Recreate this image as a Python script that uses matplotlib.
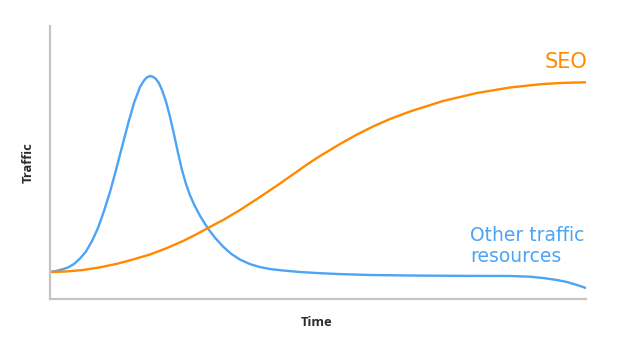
import matplotlib
matplotlib.use("Agg")
import matplotlib.pyplot as plt

# Data (arbitrary units: time 0..536, traffic 0..273)
other_t = [0, 6, 12, 18, 24, 30, 36, 42, 48, 54, 60, 66, 72, 78, 84, 90, 94, 97, 100, 103,
           106, 109, 112, 116, 120, 124, 128, 132, 136, 140, 144, 150, 158, 165, 173, 181,
           190, 200, 210, 220, 230, 250, 270, 290, 320, 370, 420, 460, 480, 493, 507, 517,
           527, 536]
other_v = [27, 28, 29.5, 31.5, 35, 40.5, 47.5, 58, 71, 88, 107, 129, 152, 175, 196, 212,
           218.5, 221.7, 223, 222.2, 220, 215.7, 209, 197.4, 182.2, 164.6, 146.2, 129, 115,
           103.8, 94.6, 83.2, 70.4, 61.3, 52.5, 45.3, 39.4, 34.9, 31.9, 30, 28.8, 27, 25.8,
           24.9, 24, 23.4, 23.1, 23, 22.3, 21, 19, 17, 14, 11]

seo_t = [0, 16, 33, 50, 67, 83, 100, 117, 133, 145, 158, 174, 190, 210, 230, 245, 257,
         270, 290, 307, 323, 340, 360, 393, 427, 460, 493, 515, 536]
seo_v = [27, 27.5, 29, 31.7, 35.2, 39.5, 44.5, 51, 58, 64, 71, 79.5, 89, 102, 115.5, 126,
         134.5, 143, 155, 164.5, 172.5, 180, 187.5, 198, 206, 211.5, 215, 216.2, 216.7]

BLUE = "#4da3f5"
ORANGE = "#ff8a00"
LABEL_FONT = "DejaVu Sans"
AXIS_FONT = "Open Sans"

fig = plt.figure(figsize=(6.28, 3.45), dpi=100)
ax = fig.add_axes([50/628, 1-299/345, 536/628, 273/345])

ax.plot(other_t, other_v, color=BLUE, lw=1.7, solid_capstyle="round", solid_joinstyle="round")
ax.plot(seo_t, seo_v, color=ORANGE, lw=1.7, solid_capstyle="round", solid_joinstyle="round")

ax.set_xlim(0, 536)
ax.set_ylim(0, 273)
ax.set_xticks([])
ax.set_yticks([])
for s in ["top", "right"]:
    ax.spines[s].set_visible(False)
for s in ["left", "bottom"]:
    ax.spines[s].set_color("#c4c4c4")
    ax.spines[s].set_linewidth(1.6)

ax.text(537, 231, "SEO", color=ORANGE, fontsize=15, family=LABEL_FONT,
        ha="right", va="baseline")
ax.text(420, 58, "Other traffic", color=BLUE, fontsize=13.5, family=LABEL_FONT,
        ha="left", va="baseline")
ax.text(420, 37, "resources", color=BLUE, fontsize=13.5, family=LABEL_FONT,
        ha="left", va="baseline")

fig.text(28/628, 1-163/345, "Traffic", rotation=90, fontsize=9.3, fontweight="bold",
         color="#2b2b2b", family=AXIS_FONT, ha="center", va="center")
fig.text(317/628, 1-322/345, "Time", fontsize=9.3, fontweight="bold",
         color="#2b2b2b", family=AXIS_FONT, ha="center", va="center")

fig.savefig("out.png", dpi=100, facecolor="white")
